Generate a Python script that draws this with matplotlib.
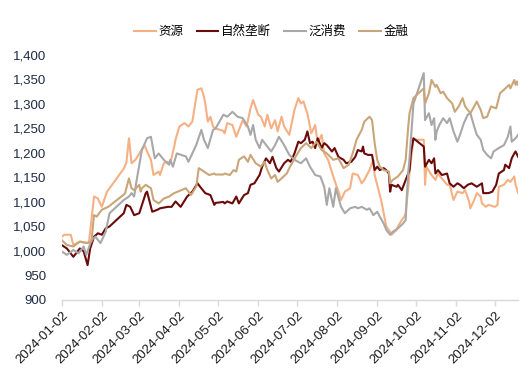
import matplotlib
matplotlib.use("Agg")
import matplotlib.pyplot as plt
from matplotlib.ticker import FixedLocator, FuncFormatter
import pandas as pd

plt.rcParams['font.family'] = ['Liberation Sans', 'Noto Sans CJK SC', 'DejaVu Sans']

start_date = "2024-01-02"
end_day = 353  # last trading day offset (2024-12-20)

# day offsets from 2024-01-02 and index values
day_ziyuan = [0, 2, 7, 9, 14, 21, 25, 28, 31, 35, 37, 48, 50, 52, 54, 57, 61, 64, 66, 69, 71, 75, 76, 79, 82, 84, 87, 88,
              91, 95, 98, 101, 105, 108, 110, 111, 113, 115, 117, 119, 125, 126, 128, 132, 135, 140, 143, 146, 148, 152,
              154, 157, 159, 162, 165, 167, 170, 172, 176, 180, 183, 185, 187, 189, 190, 193, 196, 198, 201, 203, 206,
              210, 214, 216, 219, 223, 225, 229, 232, 234, 238, 240, 241, 242, 247, 249, 251, 254, 255, 259, 260, 263,
              265, 266, 268, 269, 272, 280, 281, 282, 286, 289, 291, 294, 298, 300, 303, 306, 310, 312, 315, 316, 319,
              321, 324, 325, 328, 330, 335, 337, 338, 342, 345, 347, 350, 351, 353]
ziyuan = [1029, 1033, 1033, 1012, 1019, 1016, 1111, 1107, 1090, 1121, 1128, 1168, 1180, 1230, 1179, 1186, 1203, 1216,
          1203, 1186, 1155, 1162, 1155, 1179, 1182, 1179, 1213, 1227, 1254, 1261, 1254, 1264, 1329, 1332, 1315, 1301,
          1264, 1274, 1254, 1250, 1245, 1240, 1261, 1257, 1233, 1267, 1254, 1291, 1308, 1278, 1274, 1254, 1278, 1250,
          1267, 1244, 1274, 1254, 1237, 1288, 1312, 1301, 1305, 1288, 1281, 1240, 1257, 1220, 1237, 1199, 1186, 1152,
          1121, 1104, 1121, 1128, 1158, 1155, 1138, 1145, 1165, 1179, 1186, 1155, 1104, 1077, 1050, 1039, 1033, 1043,
          1050, 1063, 1070, 1077, 1130, 1160, 1227, 1227, 1135, 1172, 1155, 1145, 1158, 1148, 1135, 1135, 1104, 1121,
          1118, 1124, 1101, 1087, 1104, 1118, 1111, 1097, 1090, 1094, 1090, 1094, 1131, 1135, 1145, 1141, 1152, 1135,
          1118]

day_monopoly = [0, 4, 9, 14, 17, 20, 22, 25, 28, 31, 34, 37, 48, 50, 53, 56, 60, 65, 66, 70, 74, 76, 82, 85, 88, 92, 97,
                101, 105, 107, 111, 115, 118, 119, 125, 126, 128, 132, 135, 137, 141, 144, 146, 149, 153, 155, 158, 161,
                163, 166, 168, 172, 175, 177, 180, 183, 185, 188, 190, 192, 194, 196, 198, 201, 203, 205, 209, 211, 214,
                218, 220, 224, 227, 229, 232, 233, 234, 237, 240, 242, 244, 246, 249, 251, 253, 254, 255, 259, 260, 263,
                265, 269, 270, 272, 280, 281, 284, 286, 288, 289, 291, 294, 298, 300, 303, 306, 308, 311, 314, 317, 321,
                325, 326, 330, 333, 336, 338, 342, 343, 346, 348, 350, 351, 353]
monopoly = [1012, 1005, 988, 1005, 999, 971, 1005, 1029, 1036, 1033, 1046, 1050, 1077, 1094, 1090, 1073, 1077, 1118,
            1121, 1080, 1084, 1087, 1090, 1090, 1101, 1090, 1111, 1121, 1138, 1131, 1118, 1114, 1094, 1098, 1100, 1097,
            1101, 1097, 1111, 1097, 1114, 1118, 1135, 1138, 1155, 1172, 1189, 1179, 1192, 1169, 1162, 1179, 1186, 1182,
            1199, 1223, 1220, 1227, 1244, 1220, 1223, 1210, 1230, 1210, 1220, 1216, 1203, 1210, 1192, 1186, 1179, 1182,
            1192, 1206, 1203, 1213, 1199, 1196, 1196, 1165, 1172, 1165, 1169, 1165, 1158, 1121, 1135, 1131, 1135, 1124,
            1138, 1165, 1199, 1230, 1213, 1172, 1186, 1179, 1189, 1158, 1165, 1155, 1158, 1138, 1131, 1138, 1135, 1128,
            1135, 1138, 1131, 1138, 1118, 1118, 1121, 1135, 1158, 1165, 1176, 1169, 1189, 1199, 1203, 1192]

day_consumer = [0, 4, 9, 13, 17, 19, 23, 26, 30, 34, 37, 48, 52, 54, 56, 58, 62, 66, 69, 72, 75, 79, 83, 84, 86, 89, 96,
                98, 104, 108, 110, 113, 117, 119, 125, 128, 132, 136, 140, 144, 146, 148, 150, 153, 155, 159, 162, 165,
                168, 172, 176, 180, 185, 189, 192, 196, 200, 203, 205, 207, 210, 212, 216, 219, 223, 227, 229, 232, 236,
                238, 241, 244, 246, 249, 251, 254, 256, 260, 264, 266, 267, 268, 269, 272, 280, 281, 284, 286, 288, 289,
                290, 292, 295, 298, 300, 303, 306, 308, 311, 314, 316, 319, 321, 324, 326, 329, 332, 334, 338, 342, 345,
                347, 348, 351, 353]
consumer = [999, 992, 1002, 995, 1009, 992, 1022, 1029, 1016, 1039, 1077, 1104, 1111, 1118, 1111, 1145, 1206, 1230, 1233,
            1189, 1199, 1186, 1176, 1186, 1172, 1199, 1193, 1182, 1216, 1247, 1227, 1210, 1247, 1250, 1278, 1274, 1284,
            1274, 1271, 1254, 1237, 1257, 1227, 1210, 1227, 1213, 1203, 1216, 1233, 1216, 1196, 1186, 1179, 1189, 1172,
            1155, 1152, 1131, 1094, 1128, 1090, 1128, 1090, 1077, 1087, 1090, 1087, 1090, 1084, 1087, 1073, 1080, 1070,
            1056, 1043, 1033, 1039, 1046, 1056, 1063, 1118, 1160, 1190, 1300, 1363, 1267, 1281, 1257, 1271, 1227, 1244,
            1257, 1271, 1261, 1271, 1244, 1223, 1237, 1261, 1278, 1281, 1254, 1237, 1227, 1206, 1196, 1189, 1203, 1210,
            1216, 1233, 1254, 1223, 1230, 1237]

day_finance = [0, 4, 9, 14, 19, 23, 25, 27, 31, 36, 48, 49, 52, 54, 56, 60, 61, 62, 65, 69, 71, 75, 79, 83, 87, 96, 100,
               104, 106, 110, 114, 118, 119, 125, 126, 130, 133, 135, 137, 141, 144, 146, 150, 154, 157, 159, 162, 165,
               167, 170, 174, 176, 181, 185, 189, 193, 197, 201, 205, 210, 214, 218, 222, 225, 228, 232, 234, 238, 240,
               242, 244, 246, 249, 253, 254, 256, 260, 264, 266, 268, 269, 272, 280, 281, 284, 286, 289, 290, 293, 295,
               298, 302, 304, 307, 310, 312, 316, 319, 321, 324, 326, 329, 332, 336, 339, 342, 346, 347, 350, 351, 352,
               353]
finance = [1022, 1012, 1009, 1019, 1016, 1019, 1073, 1070, 1084, 1090, 1115, 1118, 1148, 1128, 1124, 1135, 1121, 1128,
           1135, 1128, 1104, 1097, 1107, 1111, 1118, 1128, 1114, 1131, 1169, 1162, 1155, 1158, 1156, 1156, 1158, 1155,
           1165, 1162, 1186, 1193, 1182, 1196, 1179, 1172, 1182, 1165, 1148, 1155, 1141, 1148, 1158, 1169, 1193, 1210,
           1220, 1210, 1223, 1206, 1199, 1186, 1189, 1169, 1176, 1199, 1227, 1247, 1264, 1274, 1267, 1220, 1186, 1172,
           1165, 1162, 1138, 1145, 1152, 1165, 1186, 1254, 1281, 1312, 1332, 1301, 1322, 1349, 1335, 1339, 1322, 1325,
           1312, 1301, 1284, 1295, 1312, 1295, 1281, 1295, 1305, 1288, 1271, 1274, 1295, 1291, 1322, 1329, 1339, 1332,
           1349, 1339, 1346, 1339]

series_names = ["资源", "自然垄断", "泛消费", "金融"]
series_colors = ["#F5B084", "#6B0A0A", "#A8A8A8", "#C9A679"]
series_days = [day_ziyuan, day_monopoly, day_consumer, day_finance]
series_vals = [ziyuan, monopoly, consumer, finance]

tick_labels = ["2024-01-02", "2024-02-02", "2024-03-02", "2024-04-02", "2024-05-02", "2024-06-02",
               "2024-07-02", "2024-08-02", "2024-09-02", "2024-10-02", "2024-11-02", "2024-12-02"]
y_ticks = [900, 950, 1000, 1050, 1100, 1150, 1200, 1250, 1300, 1350, 1400]

t0 = pd.Timestamp(start_date)

fig = plt.figure(figsize=(5.32, 3.90), dpi=100)
ax = fig.add_axes([0.116, 0.231, 0.858, 0.628])

for name, color, days, vals in zip(series_names, series_colors, series_days, series_vals):
    dates = t0 + pd.to_timedelta(days, unit="D")
    ax.plot(dates, vals, color=color, lw=1.5, label=name)

ax.set_xlim(t0, t0 + pd.Timedelta(days=end_day))
ax.set_ylim(y_ticks[0], y_ticks[-1])
ax.yaxis.set_major_locator(FixedLocator(y_ticks))
ax.yaxis.set_major_formatter(FuncFormatter(lambda v, p: f"{int(v):,}"))

tick_dates = pd.to_datetime(tick_labels)
ax.set_xticks(tick_dates)
ax.set_xticklabels(tick_labels, rotation=45, ha="right", rotation_mode="anchor")

for s in ["top", "right", "left"]:
    ax.spines[s].set_visible(False)
ax.spines["bottom"].set_color("#D9D9D9")
ax.spines["bottom"].set_linewidth(1.0)
ax.tick_params(axis="x", colors="#D9D9D9", length=4, width=1, labelcolor="#1a1a1a", labelsize=9.5, pad=3)
ax.tick_params(axis="y", length=0, labelcolor="#1F2A44", labelsize=9.5, pad=11)

fig.legend(loc="upper center", bbox_to_anchor=(0.51, 0.965), ncol=4, frameon=False,
           prop={"family": ["Noto Sans CJK SC"], "size": 9}, handlelength=1.7, handletextpad=0.2,
           columnspacing=1.1)

fig.savefig("out.png", dpi=100)
